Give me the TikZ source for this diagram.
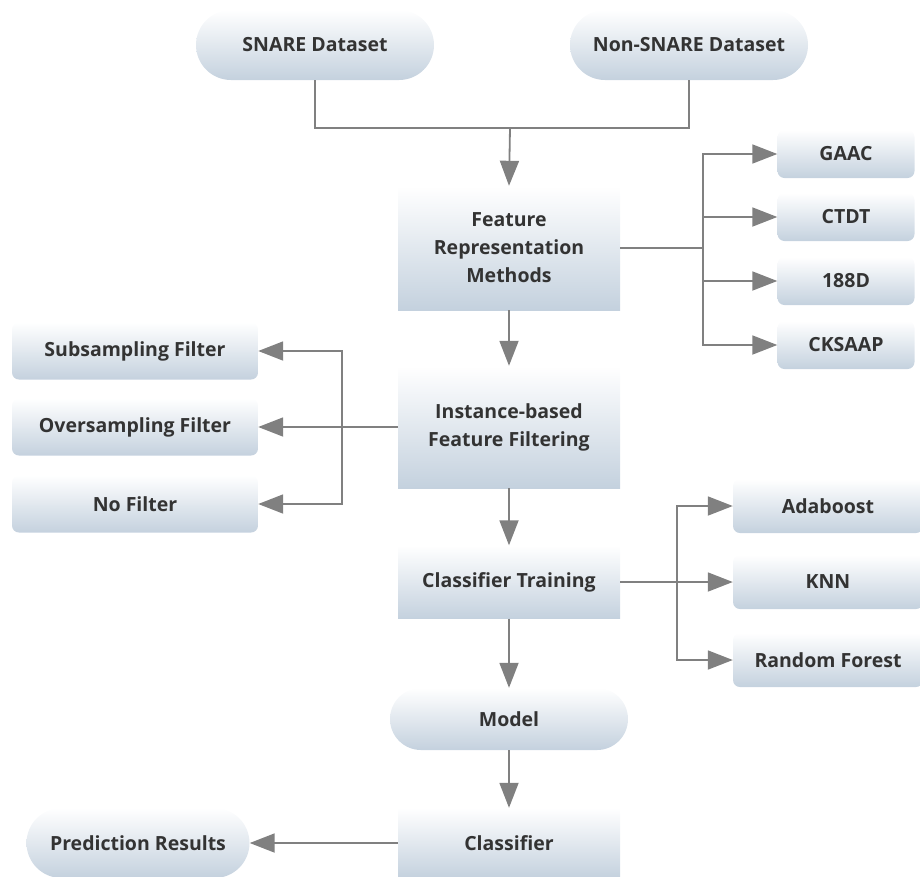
\documentclass[tikz,border=0pt]{standalone}
\usepackage{fontspec}
\setmainfont{Open Sans}
\usetikzlibrary{arrows.meta}

\definecolor{boxbot}{RGB}{196,209,222}
\definecolor{linegray}{RGB}{128,128,128}
\definecolor{textgray}{RGB}{51,51,51}

\tikzset{
    box/.style={top color=white, bottom color=boxbot, draw=none, text=textgray,
        font=\fontsize{19.5}{28}\selectfont\bfseries, align=center, inner sep=0pt},
    mainbox/.style={box, minimum width=222pt},
    sidebox/.style={box, rounded corners=7pt},
    pill/.style={box, minimum width=238pt, minimum height=70pt, rounded corners=35pt},
    conn/.style={draw=linegray, line width=1.8pt},
    flow/.style={conn, -{Triangle[length=25pt,width=19pt]}}
}

\begin{document}
\begin{tikzpicture}[x=1pt,y=-1pt]
    \useasboundingbox (0,0) rectangle (920,876);
    \clip (0,0) rectangle (920,876);

    % input data
    \node[pill] (snare) at (315,45) {SNARE Dataset};
    \node[pill] (nonsnare) at (689,45) {Non-SNARE Dataset};
    \coordinate (join) at (510,128);

    % feature representation and its methods
    \node[mainbox, minimum height=124pt] (frm) at (509,248) {Feature\\Representation\\Methods};
    \node[sidebox, minimum width=137pt, minimum height=48pt] (gaac) at (846,154) {GAAC};
    \node[sidebox, minimum width=137pt, minimum height=48pt] (ctdt) at (846,217) {CTDT};
    \node[sidebox, minimum width=137pt, minimum height=48pt] (d188) at (846,281) {188D};
    \node[sidebox, minimum width=137pt, minimum height=48pt] (cksaap) at (846,345) {CKSAAP};
    \coordinate (frmsplit) at (703,248);

    % feature filtering and the filters
    \node[mainbox, minimum height=122pt] (inst) at (509,427) {Instance-based\\Feature Filtering};
    \node[sidebox, minimum width=246pt, minimum height=57pt] (sub) at (135,351) {Subsampling Filter};
    \node[sidebox, minimum width=246pt, minimum height=57pt] (over) at (135,427) {Oversampling Filter};
    \node[sidebox, minimum width=246pt, minimum height=57pt] (nofilt) at (135,504) {No Filter};
    \coordinate (instsplit) at (342,427);

    % classifier training and the learners
    \node[mainbox, minimum height=73pt] (train) at (509,582) {Classifier Training};
    \node[sidebox, minimum width=190pt, minimum height=54pt] (ada) at (828,506) {Adaboost};
    \node[sidebox, minimum width=190pt, minimum height=54pt] (knn) at (828,582) {KNN};
    \node[sidebox, minimum width=190pt, minimum height=54pt] (rf) at (828,660) {Random Forest};
    \coordinate (trainsplit) at (677,582);

    % model and prediction
    \node[pill, minimum height=62pt, rounded corners=31pt] (model) at (509,719) {Model};
    \node[mainbox, minimum height=70pt] (clf) at (509,843) {Classifier};
    \node[pill, minimum width=223pt] (pred) at (138,843) {Prediction Results};

    % connectors
    \draw[conn] (snare.south) |- (join) -| (nonsnare.south);
    \draw[flow] (join) -- (frm.north);

    \draw[conn] (frm.east) -- (frmsplit);
    \foreach \m in {gaac,ctdt,d188,cksaap}
        \draw[flow] (frmsplit) |- (\m.west);

    \draw[flow] (frm.south) -- (inst.north);
    \draw[conn] (inst.west) -- (instsplit);
    \foreach \f in {sub,over,nofilt}
        \draw[flow] (instsplit) |- (\f.east);

    \draw[flow] (inst.south) -- (train.north);
    \draw[conn] (train.east) -- (trainsplit);
    \foreach \c in {ada,knn,rf}
        \draw[flow] (trainsplit) |- (\c.west);

    \draw[flow] (train.south) -- (model.north);
    \draw[flow] (model.south) -- (clf.north);
    \draw[flow] (clf.west) -- (pred.east);
\end{tikzpicture}
\end{document}
